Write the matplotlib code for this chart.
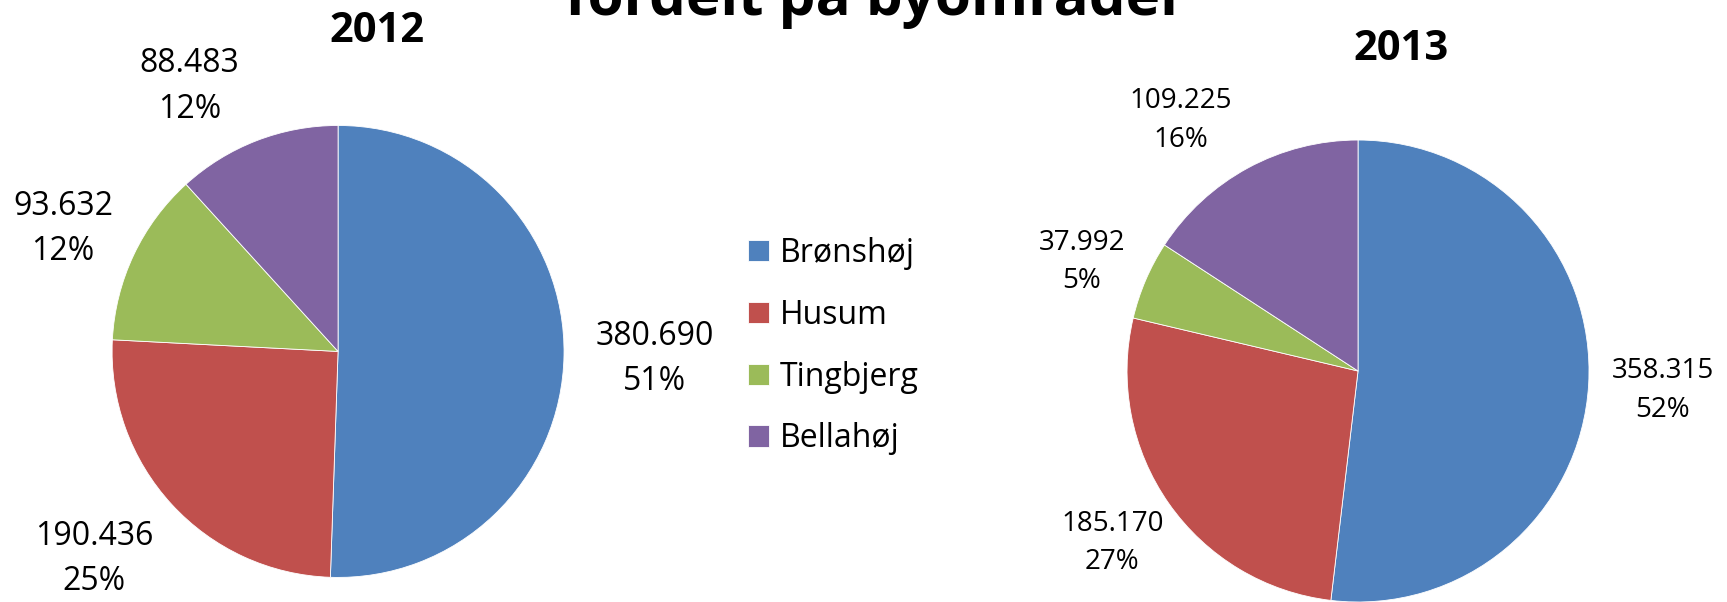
import matplotlib.pyplot as plt
import numpy as np

plt.rcParams['font.family'] = ['Open Sans', 'DejaVu Sans']

areas = ['Brønshøj', 'Husum', 'Tingbjerg', 'Bellahøj']
colors = ['#4F81BD', '#C0504D', '#9BBB59', '#8064A2']

values_2012 = [380690, 190436, 93632, 88483]
pct_2012 = ['51%', '25%', '12%', '12%']
values_2013 = [358315, 185170, 37992, 109225]
pct_2013 = ['52%', '27%', '5%', '16%']

# label placement (angle in degrees, distance in radii), like Excel's best fit
pos_2012 = [(-1.4, 1.40), (-139.6, 1.417), (156, 1.332), (119.3, 1.344)]
pos_2013 = [(-3.7, 1.323), (-145, 1.298), (158.5, 1.286), (125.3, 1.328)]


def fmt(v):
    # danish thousands separator
    return f'{v:,}'.replace(',', '.')


fig = plt.figure(figsize=(17.27, 6.02), dpi=100)

ax1 = fig.add_axes([0.0649, 0.0407, 0.2617, 0.751])
ax2 = fig.add_axes([0.6526, 0.0, 0.2675, 0.7674])


def draw_pie(ax, values, pcts, pos, size):
    labels = [fmt(v) + '\n' + p for v, p in zip(values, pcts)]
    wedges, texts = ax.pie(values, colors=colors, startangle=90, counterclock=False,
                           labels=labels, labeldistance=1.3,
                           wedgeprops=dict(edgecolor='white', linewidth=0.6),
                           textprops=dict(fontsize=size, linespacing=1.5))
    for t, (ang, d) in zip(texts, pos):
        a = np.deg2rad(ang)
        t.set_position((d * np.cos(a), d * np.sin(a)))
        t.set_horizontalalignment('center')
        t.set_verticalalignment('center')
    ax.set_xlim(-1, 1)
    ax.set_ylim(-1, 1)
    ax.set_aspect('equal')
    ax.axis('off')
    return wedges


wedges = draw_pie(ax1, values_2012, pct_2012, pos_2012, 23)
draw_pie(ax2, values_2013, pct_2013, pos_2013, 20)

fig.text(377 / 1727, 1 - 31 / 602, '2012', fontsize=30, fontweight='bold', ha='center', va='center')
fig.text(1401 / 1727, 1 - 50 / 602, '2013', fontsize=30, fontweight='bold', ha='center', va='center')
fig.text(876 / 1727, 1 - 15 / 602, 'fordelt på byområder', fontsize=42, fontweight='bold',
         ha='center', va='baseline')

fig.legend(wedges, areas, loc='center left', bbox_to_anchor=(0.433, 0.425),
           frameon=False, fontsize=23, handlelength=0.65, handleheight=0.65,
           handletextpad=0.35, labelspacing=0.9, borderpad=0, borderaxespad=0)

plt.savefig('out.png', dpi=100)
